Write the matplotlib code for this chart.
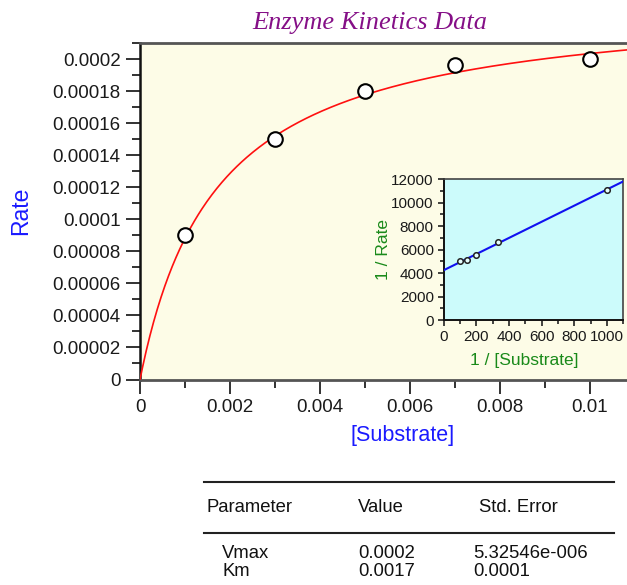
import numpy as np
import matplotlib
matplotlib.use("Agg")
import matplotlib.pyplot as plt
from matplotlib.ticker import MultipleLocator, FixedLocator

# ---------------- data ----------------
substrate = [0.001, 0.003, 0.005, 0.007, 0.01]
rate = [0.00009, 0.00015, 0.00018, 0.000196, 0.0002]

# fitted Michaelis-Menten parameters (curve)
vmax_fit = 0.000238
km_fit = 0.0017

main_xticks = [0, 0.002, 0.004, 0.006, 0.008, 0.01]
main_xticklabels = ["0", "0.002", "0.004", "0.006", "0.008", "0.01"]
main_yticks = [0, 0.00002, 0.00004, 0.00006, 0.00008, 0.0001, 0.00012,
               0.00014, 0.00016, 0.00018, 0.0002]
main_yticklabels = ["0", "0.00002", "0.00004", "0.00006", "0.00008", "0.0001",
                    "0.00012", "0.00014", "0.00016", "0.00018", "0.0002"]

inset_xticks = [0, 200, 400, 600, 800, 1000]
inset_yticks = [0, 2000, 4000, 6000, 8000, 10000, 12000]

table_header = ["Parameter", "Value", "Std. Error"]
table_params = ["Vmax", "Km"]
table_values = ["0.0002", "0.0017"]
table_errors = ["5.32546e-006", "0.0001"]

# ---------------- figure ----------------
W, H = 627, 585
fig = plt.figure(figsize=(W / 100, H / 100), dpi=100)
fig.patch.set_facecolor("white")

sans = "Liberation Sans"
serif = "Liberation Serif"

def fx(px):
    return px / W

def fy(py):
    return 1 - py / H

# main axes: x 0 at px 140, 45 px per 0.001; y 0 at 379.5, top 0.00021 at 43
ax_left, ax_right_px = 140, 140 + 495
ax_top, ax_bot = 43, 379.5
ax = fig.add_axes([fx(ax_left), fy(ax_bot), (ax_right_px - ax_left) / W,
                   (ax_bot - ax_top) / H])
ax.set_facecolor("#FDFCE7")
ax.set_xlim(0, 0.011)
ax.set_ylim(0, 0.00021)

xs = np.linspace(0, 0.011, 400)
ax.plot(xs, vmax_fit * xs / (km_fit + xs), color="#FF1010", lw=1.2, zorder=3)
ax.plot(substrate, rate, "o", ms=10.5, mfc="white", mec="black", mew=1.5,
        zorder=4, clip_on=False)

ax.xaxis.set_major_locator(FixedLocator(main_xticks))
ax.set_xticklabels(main_xticklabels)
ax.xaxis.set_minor_locator(MultipleLocator(0.001))
ax.yaxis.set_major_locator(FixedLocator(main_yticks))
ax.set_yticklabels(main_yticklabels)
ax.yaxis.set_minor_locator(MultipleLocator(0.00001))
ax.tick_params(axis="both", which="major", direction="out", length=10,
               width=1.3, color="#222222", labelsize=13.5, pad=4,
               labelcolor="#1a1a1a")
ax.tick_params(axis="both", which="minor", direction="out", length=6,
               width=1.3, color="#222222")
for lab in ax.get_xticklabels() + ax.get_yticklabels():
    lab.set_fontfamily(sans)
ax.spines["right"].set_visible(False)
ax.spines["top"].set_color("#555555")
ax.spines["top"].set_linewidth(2)
ax.spines["bottom"].set_color("#555555")
ax.spines["bottom"].set_linewidth(2)
ax.spines["left"].set_color("#111111")
ax.spines["left"].set_linewidth(1.8)

fig.text(fx(370), fy(23), "Enzyme Kinetics Data", ha="center", va="center",
         fontsize=19, style="italic", family=serif, color="#850F87")
fig.text(fx(21), fy(211), "Rate", ha="center", va="center", rotation=90,
         fontsize=16.5, family=sans, color="#1A1AFF")
fig.text(fx(403), fy(436), "[Substrate]", ha="center", va="center",
         fontsize=15.5, family=sans, color="#1A1AFF")

# ---------------- inset ----------------
in_left, in_right = 443.5, 623.3
in_top, in_bot = 179.3, 320
axi = fig.add_axes([fx(in_left), fy(in_bot), (in_right - in_left) / W,
                    (in_bot - in_top) / H])
axi.set_facecolor("#CCFBFB")
axi.set_xlim(0, 1100)
axi.set_ylim(0, 12000)

inv_s = 1.0 / np.array(substrate)
inv_v = 1.0 / np.array(rate)
slope, intercept = np.polyfit(inv_s, inv_v, 1)
lx = np.array([0, 1100])
axi.plot(lx, intercept + slope * lx, color="#1010F0", lw=1.5, zorder=3)
axi.plot(inv_s, inv_v, "o", ms=4, mfc="#E6FFFF", mec="#222222", mew=1.1,
         zorder=4)

axi.xaxis.set_major_locator(FixedLocator(inset_xticks))
axi.xaxis.set_minor_locator(MultipleLocator(100))
axi.yaxis.set_major_locator(FixedLocator(inset_yticks))
axi.yaxis.set_minor_locator(MultipleLocator(1000))
axi.tick_params(axis="both", which="major", direction="out", length=4,
                width=1.2, color="#222222", labelsize=11, pad=3,
                labelcolor="#1a1a1a")
axi.tick_params(axis="both", which="minor", direction="out", length=3,
                width=1.2, color="#222222")
for lab in axi.get_xticklabels() + axi.get_yticklabels():
    lab.set_fontfamily(sans)
for s in ["top", "right"]:
    axi.spines[s].set_color("#444444")
    axi.spines[s].set_linewidth(1.2)
for s in ["left", "bottom"]:
    axi.spines[s].set_color("#111111")
    axi.spines[s].set_linewidth(1.4)

fig.text(fx(384), fy(249), "1 / Rate", ha="center", va="center",
         rotation=90, fontsize=12.5, family=sans, color="#1A8A1A")
fig.text(fx(524), fy(360), "1 / [Substrate]", ha="center", va="center",
         fontsize=12.5, family=sans, color="#1A8A1A")

# ---------------- table ----------------
line_kw = dict(color="#222222", lw=1.5)
fig.add_artist(plt.Line2D([fx(204), fx(614)], [fy(481.5), fy(481.5)], **line_kw))
fig.add_artist(plt.Line2D([fx(204), fx(614)], [fy(532.5), fy(532.5)], **line_kw))

tkw = dict(fontsize=13.3, family=sans, color="#111111", va="center", ha="left")
fig.text(fx(206), fy(507), table_header[0], **tkw)
fig.text(fx(358), fy(507), table_header[1], **tkw)
fig.text(fx(479), fy(507), table_header[2], **tkw)
row_y = [554, 571]
for i in range(len(table_params)):
    fig.text(fx(222), fy(row_y[i]), table_params[i], **tkw)
    fig.text(fx(358), fy(row_y[i]), table_values[i], **tkw)
    fig.text(fx(473), fy(row_y[i]), table_errors[i], **tkw)

fig.savefig("out.png", dpi=100)
